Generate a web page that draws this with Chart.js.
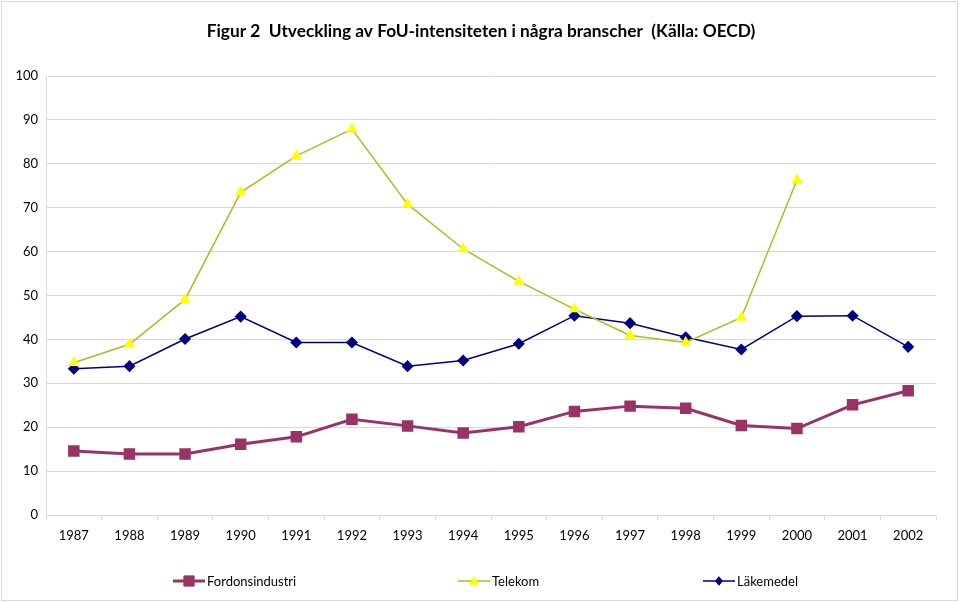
<!DOCTYPE html>
<html lang="sv">
<head>
    <meta charset="UTF-8">
    <title>Figur 2 Utveckling av FoU-intensiteten</title>
    <script src="https://cdn.jsdelivr.net/npm/chart.js"></script>
    <style>
        html, body { margin: 0; padding: 0; background: #fff; }
        #wrap { width: 960px; height: 603px; }
    </style>
</head>
<body>
    <div id="wrap"><canvas id="fouChart" width="960" height="603"></canvas></div>

    <script>
        // Data
        const years = ['1987', '1988', '1989', '1990', '1991', '1992', '1993', '1994',
                       '1995', '1996', '1997', '1998', '1999', '2000', '2001', '2002'];
        const fordonsindustri = [14.6, 13.9, 13.9, 16.1, 17.8, 21.8, 20.3, 18.7,
                                 20.1, 23.6, 24.8, 24.3, 20.4, 19.7, 25.1, 28.3];
        const telekom = [34.7, 38.9, 49.1, 73.5, 81.8, 87.9, 70.8, 60.6,
                         53.2, 46.9, 40.9, 39.3, 45.0, 76.3, null, null];
        const lakemedel = [33.3, 33.9, 40.1, 45.2, 39.3, 39.3, 33.9, 35.2,
                           39.0, 45.4, 43.7, 40.5, 37.7, 45.3, 45.4, 38.3];
        const yTicks = [0, 10, 20, 30, 40, 50, 60, 70, 80, 90, 100];

        const titleText = 'Figur 2  Utveckling av FoU-intensiteten i några branscher  (Källa: OECD)';
        const fontFamily = 'Lato, "Open Sans", sans-serif';
        const gridColor = '#d9d9d9';

        const ctx = document.getElementById('fouChart').getContext('2d');

        // Frame, title and legend drawn by hand, the way Excel places them
        const excelDecor = {
            id: 'excelDecor',
            beforeDraw(chart) {
                const c = chart.ctx;
                c.save();
                c.fillStyle = '#fff';
                c.fillRect(0, 0, chart.width, chart.height);
                c.strokeStyle = gridColor;
                c.lineWidth = 1;
                c.strokeRect(1.5, 1.5, 956, 599);
                c.restore();
            },
            afterDraw(chart) {
                const c = chart.ctx;
                c.save();
                // title
                c.font = 'bold 17.3px ' + fontFamily;
                c.fillStyle = '#000';
                c.textAlign = 'center';
                c.textBaseline = 'middle';
                c.fillText(titleText, 481, 31);

                // legend
                const y = 581;
                const starts = [175, 460, 705];
                c.font = '13px ' + fontFamily;
                c.textAlign = 'left';
                chart.data.datasets.forEach((ds, i) => {
                    const x = starts[i];
                    c.strokeStyle = ds.borderColor;
                    c.lineWidth = ds.borderWidth;
                    c.beginPath();
                    c.moveTo(x - 2, y);
                    c.lineTo(x + 30, y);
                    c.stroke();
                    c.fillStyle = ds.pointBackgroundColor;
                    c.strokeStyle = ds.pointBorderColor;
                    c.lineWidth = 1;
                    const r = ds.pointRadius * 0.85;
                    const cx = x + 14;
                    c.beginPath();
                    if (ds.pointStyle === 'rect') {
                        c.rect(cx - r, y - r, 2 * r, 2 * r);
                    } else if (ds.pointStyle === 'triangle') {
                        c.moveTo(cx, y - r);
                        c.lineTo(cx + r, y + r * 0.8);
                        c.lineTo(cx - r, y + r * 0.8);
                        c.closePath();
                    } else {
                        c.moveTo(cx, y - r);
                        c.lineTo(cx + r * 0.8, y);
                        c.lineTo(cx, y + r);
                        c.lineTo(cx - r * 0.8, y);
                        c.closePath();
                    }
                    c.fill();
                    c.stroke();
                    c.fillStyle = '#000';
                    c.fillText(ds.label, x + 32, y + 1);
                });
                c.restore();
            }
        };

        new Chart(ctx, {
            type: 'line',
            data: {
                labels: years,
                datasets: [
                    {
                        label: 'Fordonsindustri',
                        data: fordonsindustri,
                        borderColor: '#993366',
                        backgroundColor: '#993366',
                        borderWidth: 3,
                        pointStyle: 'rect',
                        pointRadius: 6,
                        pointBackgroundColor: '#993366',
                        pointBorderColor: '#993366',
                        tension: 0
                    },
                    {
                        label: 'Telekom',
                        data: telekom,
                        borderColor: '#a4c11e',
                        backgroundColor: '#ffff00',
                        borderWidth: 1.5,
                        pointStyle: 'triangle',
                        pointRadius: 5,
                        pointBackgroundColor: '#ffff00',
                        pointBorderColor: '#ffff00',
                        tension: 0
                    },
                    {
                        label: 'Läkemedel',
                        data: lakemedel,
                        borderColor: '#000080',
                        backgroundColor: '#000080',
                        borderWidth: 1.5,
                        pointStyle: 'rectRot',
                        pointRadius: 5,
                        pointBackgroundColor: '#000080',
                        pointBorderColor: '#000080',
                        tension: 0
                    }
                ]
            },
            options: {
                responsive: false,
                animation: false,
                layout: {
                    padding: { top: 76, left: 0, right: 24, bottom: 56 }
                },
                plugins: {
                    legend: { display: false },
                    tooltip: { enabled: false },
                    title: { display: false }
                },
                scales: {
                    x: {
                        offset: true,
                        grid: {
                            offset: true,
                            drawOnChartArea: false,
                            drawTicks: true,
                            tickLength: 5,
                            color: gridColor
                        },
                        border: { color: gridColor },
                        ticks: {
                            color: '#000',
                            font: { family: fontFamily, size: 13 },
                            padding: 8,
                            maxRotation: 0,
                            autoSkip: false
                        },
                        afterFit(scale) { scale.height = 32; }
                    },
                    y: {
                        min: 0,
                        max: 100,
                        afterBuildTicks(scale) {
                            scale.ticks = yTicks.map(v => ({ value: v }));
                        },
                        grid: { color: gridColor, drawTicks: false },
                        border: { color: gridColor },
                        ticks: {
                            color: '#000',
                            font: { family: fontFamily, size: 13 },
                            padding: 8
                        },
                        afterFit(scale) { scale.width = 46; }
                    }
                }
            },
            plugins: [excelDecor]
        });
    </script>
</body>
</html>
